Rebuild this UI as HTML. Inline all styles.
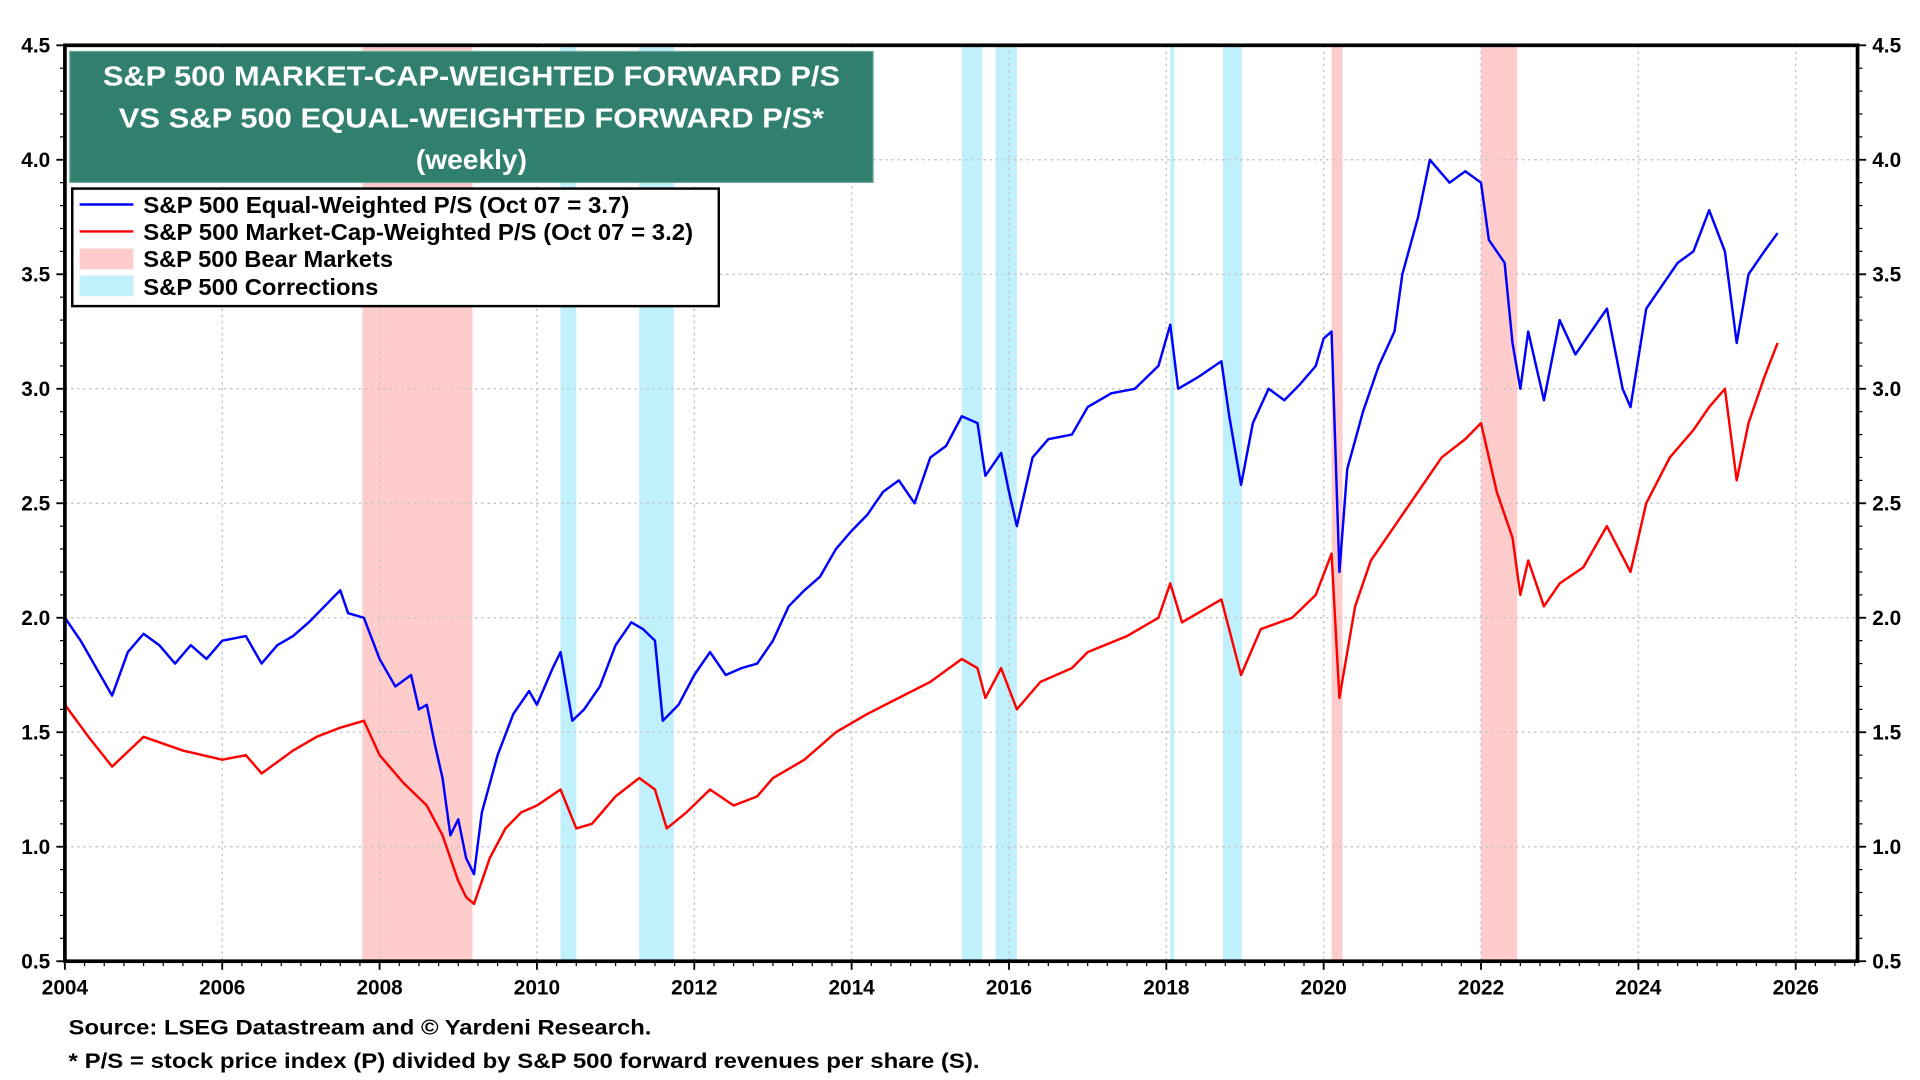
<!DOCTYPE html>
<html><head><meta charset="utf-8"><style>
html,body{margin:0;padding:0;background:#fff;}
svg{display:block;font-family:"Liberation Sans",Arial,sans-serif;}
</style></head><body>
<svg id="chart" width="1920" height="1080" viewBox="0 0 1568 882" preserveAspectRatio="none" xmlns="http://www.w3.org/2000/svg">
<g id="shades"></g>
<g id="grid"></g>
<g id="series"></g>
<g id="axes"></g>
<g>
<rect x="57" y="42" width="656" height="107" fill="#31806f" stroke="#6aa89a" stroke-width="1"/>
<text x="84" y="70" textLength="602" lengthAdjust="spacingAndGlyphs" fill="#fff" font-weight="bold" font-size="23">S&amp;P 500 MARKET-CAP-WEIGHTED FORWARD P/S</text>
<text x="97" y="104" textLength="576" lengthAdjust="spacingAndGlyphs" fill="#fff" font-weight="bold" font-size="23">VS S&amp;P 500 EQUAL-WEIGHTED FORWARD P/S*</text>
<text x="385" y="138" text-anchor="middle" fill="#fff" font-weight="bold" font-size="23">(weekly)</text>
</g>
<g>
<rect x="59" y="154" width="528" height="96" fill="#fff" stroke="#000" stroke-width="2"/>
<g><line x1="65" y1="167" x2="109" y2="167" stroke="#0000ff" stroke-width="2"/><text x="117" y="174" textLength="397" lengthAdjust="spacingAndGlyphs" font-size="19" font-weight="bold">S&amp;P 500 Equal-Weighted P/S (Oct 07 = 3.7)</text></g>
<g><line x1="65" y1="189" x2="109" y2="189" stroke="#ff0000" stroke-width="2"/><text x="117" y="196" textLength="449" lengthAdjust="spacingAndGlyphs" font-size="19" font-weight="bold">S&amp;P 500 Market-Cap-Weighted P/S (Oct 07 = 3.2)</text></g>
<g><rect x="65" y="203" width="44" height="17" fill="#ffcccc"/><text x="117" y="218" textLength="204" lengthAdjust="spacingAndGlyphs" font-size="19" font-weight="bold">S&amp;P 500 Bear Markets</text></g>
<g><rect x="65" y="225" width="44" height="17" fill="#bff0fb"/><text x="117" y="241" textLength="192" lengthAdjust="spacingAndGlyphs" font-size="19" font-weight="bold">S&amp;P 500 Corrections</text></g>
</g>
<text x="56" y="845" textLength="476" lengthAdjust="spacingAndGlyphs" font-size="17.5" font-weight="bold">Source: LSEG Datastream and © Yardeni Research.</text>
<text x="56" y="872" textLength="744" lengthAdjust="spacingAndGlyphs" font-size="17.5" font-weight="bold">* P/S = stock price index (P) divided by S&amp;P 500 forward revenues per share (S).</text>
</svg>
<script>
const yearTicks=[2004,2006,2008,2010,2012,2014,2016,2018,2020,2022,2024,2026];
const valueTicks=[0.5,1.0,1.5,2.0,2.5,3.0,3.5,4.0,4.5];
const bearStarts=[2007.78,2020.1,2022.0];
const bearEnds=[2009.18,2020.24,2022.46];
const corrStarts=[2010.3,2011.3,2015.4,2015.83,2018.05,2018.72];
const corrEnds=[2010.5,2011.74,2015.66,2016.1,2018.1,2018.96];
const blueDates=[2004.0,2004.2,2004.4,2004.6,2004.8,2005.0,2005.2,2005.4,2005.6,2005.8,2006.0,2006.3,2006.5,2006.7,2006.9,2007.1,2007.3,2007.5,2007.6,2007.8,2008.0,2008.2,2008.4,2008.5,2008.6,2008.7,2008.8,2008.9,2009.0,2009.1,2009.2,2009.3,2009.5,2009.7,2009.9,2010.0,2010.2,2010.3,2010.45,2010.6,2010.8,2011.0,2011.2,2011.35,2011.5,2011.6,2011.8,2012.0,2012.2,2012.4,2012.6,2012.8,2013.0,2013.2,2013.4,2013.6,2013.8,2014.0,2014.2,2014.4,2014.6,2014.8,2015.0,2015.2,2015.4,2015.6,2015.7,2015.9,2016.0,2016.1,2016.3,2016.5,2016.8,2017.0,2017.3,2017.6,2017.9,2018.05,2018.15,2018.4,2018.7,2018.8,2018.95,2019.1,2019.3,2019.5,2019.7,2019.9,2020.0,2020.1,2020.2,2020.3,2020.5,2020.7,2020.9,2021.0,2021.2,2021.35,2021.6,2021.8,2022.0,2022.1,2022.3,2022.4,2022.5,2022.6,2022.8,2023.0,2023.2,2023.4,2023.6,2023.8,2023.9,2024.1,2024.3,2024.5,2024.7,2024.9,2025.1,2025.25,2025.4,2025.6,2025.77];
const blueValues=[2.0,1.9,1.78,1.66,1.85,1.93,1.88,1.8,1.88,1.82,1.9,1.92,1.8,1.88,1.92,1.98,2.05,2.12,2.02,2.0,1.82,1.7,1.75,1.6,1.62,1.45,1.3,1.05,1.12,0.95,0.88,1.15,1.4,1.58,1.68,1.62,1.78,1.85,1.55,1.6,1.7,1.88,1.98,1.95,1.9,1.55,1.62,1.75,1.85,1.75,1.78,1.8,1.9,2.05,2.12,2.18,2.3,2.38,2.45,2.55,2.6,2.5,2.7,2.75,2.88,2.85,2.62,2.72,2.55,2.4,2.7,2.78,2.8,2.92,2.98,3.0,3.1,3.28,3.0,3.05,3.12,2.88,2.58,2.85,3.0,2.95,3.02,3.1,3.22,3.25,2.2,2.65,2.9,3.1,3.25,3.5,3.75,4.0,3.9,3.95,3.9,3.65,3.55,3.2,3.0,3.25,2.95,3.3,3.15,3.25,3.35,3.0,2.92,3.35,3.45,3.55,3.6,3.78,3.6,3.2,3.5,3.6,3.68];
const redDates=[2004.0,2004.3,2004.6,2005.0,2005.5,2006.0,2006.3,2006.5,2006.9,2007.2,2007.5,2007.8,2008.0,2008.3,2008.6,2008.8,2009.0,2009.1,2009.2,2009.4,2009.6,2009.8,2010.0,2010.3,2010.5,2010.7,2011.0,2011.3,2011.5,2011.65,2011.9,2012.2,2012.5,2012.8,2013.0,2013.4,2013.8,2014.2,2014.6,2015.0,2015.4,2015.6,2015.7,2015.9,2016.1,2016.4,2016.8,2017.0,2017.5,2017.9,2018.05,2018.2,2018.7,2018.95,2019.2,2019.6,2019.9,2020.1,2020.2,2020.4,2020.6,2020.9,2021.2,2021.5,2021.8,2022.0,2022.2,2022.4,2022.5,2022.6,2022.8,2023.0,2023.3,2023.6,2023.9,2024.1,2024.4,2024.7,2024.9,2025.1,2025.25,2025.4,2025.6,2025.77];
const redValues=[1.62,1.48,1.35,1.48,1.42,1.38,1.4,1.32,1.42,1.48,1.52,1.55,1.4,1.28,1.18,1.05,0.85,0.78,0.75,0.95,1.08,1.15,1.18,1.25,1.08,1.1,1.22,1.3,1.25,1.08,1.15,1.25,1.18,1.22,1.3,1.38,1.5,1.58,1.65,1.72,1.82,1.78,1.65,1.78,1.6,1.72,1.78,1.85,1.92,2.0,2.15,1.98,2.08,1.75,1.95,2.0,2.1,2.28,1.65,2.05,2.25,2.4,2.55,2.7,2.78,2.85,2.55,2.35,2.1,2.25,2.05,2.15,2.22,2.4,2.2,2.5,2.7,2.82,2.92,3.0,2.6,2.85,3.05,3.2];

const NS='http://www.w3.org/2000/svg';
const L=53,R=1517,T=37,B=785;
function xS(yr){return L+(yr-2004)*64.25;}
function yS(v){return B-(v-0.5)*187;}
function mk(tag,attrs,parent){const e=document.createElementNS(NS,tag);for(const k in attrs)e.setAttribute(k,attrs[k]);parent.appendChild(e);return e;}
const shades=document.getElementById('shades'),grid=document.getElementById('grid'),series=document.getElementById('series'),axes=document.getElementById('axes');
for(let i=0;i<bearStarts.length;i++){
  const r=mk('rect',{x:xS(bearStarts[i]),y:T,width:xS(bearEnds[i])-xS(bearStarts[i]),height:B-T,fill:'#ffcccc'},shades);
  
  
}
for(let i=0;i<corrStarts.length;i++){
  const r=mk('rect',{x:xS(corrStarts[i]),y:T,width:xS(corrEnds[i])-xS(corrStarts[i]),height:B-T,fill:'#bff0fb'},shades);
  
  
}
valueTicks.forEach(v=>{
  const g=mk('line',{x1:L,x2:R,y1:yS(v),y2:yS(v),stroke:'#c8c8c8','stroke-dasharray':'2,3','stroke-width':1.2},grid);
  
  
  const t1=mk('text',{x:41,y:yS(v)+6,'text-anchor':'end','font-size':17,'font-weight':'bold'},axes);t1.textContent=v.toFixed(1);
  
  
  const t2=mk('text',{x:1529,y:yS(v)+6,'font-size':17,'font-weight':'bold'},axes);t2.textContent=v.toFixed(1);
  
  
  mk('line',{x1:L-7,x2:L,y1:yS(v),y2:yS(v),stroke:'#000','stroke-width':1.5},axes);
  mk('line',{x1:R,x2:R+7,y1:yS(v),y2:yS(v),stroke:'#000','stroke-width':1.5},axes);
});
for(let k=1;k<40;k++){if(k%5===0)continue;const v=0.5+k*0.1;
  mk('line',{x1:L-4,x2:L,y1:yS(v),y2:yS(v),stroke:'#000','stroke-width':1},axes);
  mk('line',{x1:R,x2:R+4,y1:yS(v),y2:yS(v),stroke:'#000','stroke-width':1},axes);}
yearTicks.forEach(y=>{
  const g=mk('line',{x1:xS(y),x2:xS(y),y1:T,y2:B,stroke:'#c8c8c8','stroke-dasharray':'2,3','stroke-width':1.2},grid);
  
  
  mk('line',{x1:xS(y),x2:xS(y),y1:B,y2:B+7,stroke:'#000','stroke-width':1.5},axes);
  const t=mk('text',{x:xS(y),y:812,'text-anchor':'middle','font-size':17,'font-weight':'bold'},axes);t.textContent=y;
  
  
});
for(let q=2004;q<=2026.8;q+=0.25){mk('line',{x1:xS(q),x2:xS(q),y1:B,y2:B+4,stroke:'#000','stroke-width':1},axes);}
function line(d,v,c,name){const p=mk('polyline',{points:d.map((x,i)=>xS(x)+','+yS(v[i])).join(' '),fill:'none',stroke:c,'stroke-width':2,'stroke-linejoin':'round'},series);
  
  }
line(redDates,redValues,'#ff0000','market-cap-weighted-line');
line(blueDates,blueValues,'#0000ff','equal-weighted-line');
const fr=mk('rect',{x:L,y:T,width:R-L,height:B-T,fill:'none',stroke:'#000','stroke-width':3},axes);


</script>
</body></html>
